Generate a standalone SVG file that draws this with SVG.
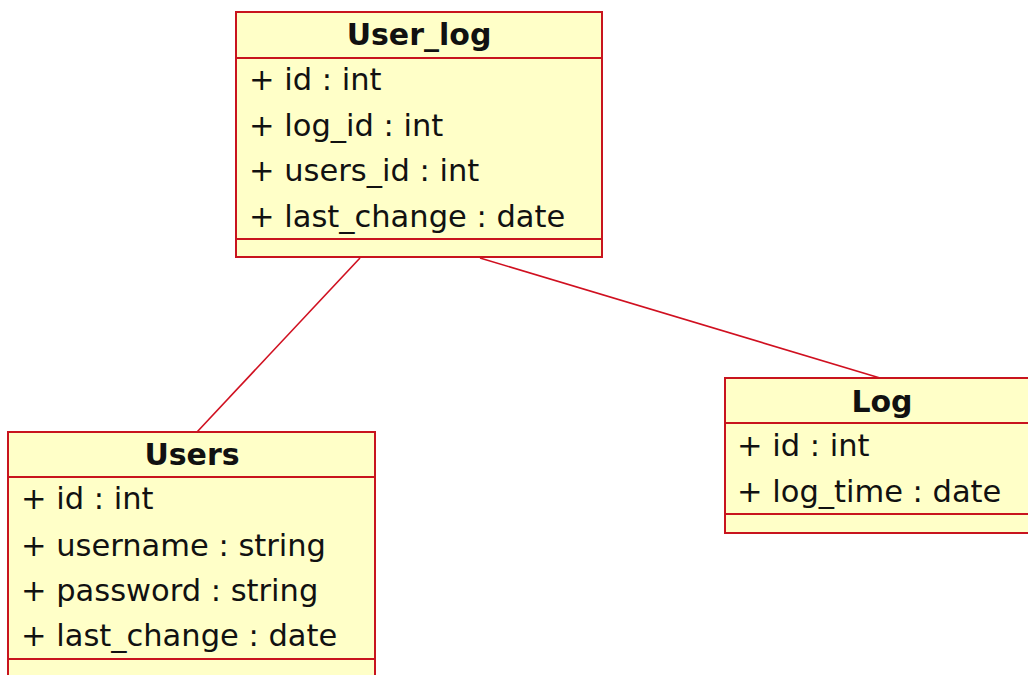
<svg xmlns="http://www.w3.org/2000/svg" width="1028" height="675" viewBox="0 0 1028 675">
  <style>
    .box { fill: #ffffc8; stroke: #c8141e; stroke-width: 2; }
    .sep { stroke: #c8141e; stroke-width: 2; }
    .title { font-family: "DejaVu Sans", sans-serif; font-weight: bold; font-size: 30px; fill: #111; text-anchor: middle; }
    .attr { font-family: "DejaVu Sans", sans-serif; font-size: 30.5px; fill: #111; }
    .link { stroke: #d01020; stroke-width: 1.6; fill: none; }
  </style>
  <rect width="1028" height="675" fill="#ffffff"/>

  <!-- associations -->
  <g id="connectors">
    <line class="link" x1="360" y1="258" x2="197" y2="432"/>
    <line class="link" x1="480" y1="258" x2="880" y2="378"/>
  </g>

  <!-- User_log class -->
  <g id="user_log">
    <rect class="box" x="236" y="12" width="366" height="245"/>
    <line class="sep" x1="236" y1="58" x2="602" y2="58"/>
    <line class="sep" x1="236" y1="239" x2="602" y2="239"/>
    <text class="title" x="419" y="45">User_log</text>
    <text class="attr" x="249" y="90">+ id : int</text>
    <text class="attr" x="249" y="136">+ log_id : int</text>
    <text class="attr" x="249" y="181">+ users_id : int</text>
    <text class="attr" x="249" y="227">+ last_change : date</text>
  </g>

  <!-- Users class -->
  <g id="users">
    <rect class="box" x="8" y="432" width="367" height="260"/>
    <line class="sep" x1="8" y1="477" x2="375" y2="477"/>
    <line class="sep" x1="8" y1="659" x2="375" y2="659"/>
    <text class="title" x="192" y="465">Users</text>
    <text class="attr" x="21" y="509">+ id : int</text>
    <text class="attr" x="21" y="556">+ username : string</text>
    <text class="attr" x="21" y="601">+ password : string</text>
    <text class="attr" x="21" y="646">+ last_change : date</text>
  </g>

  <!-- Log class -->
  <g id="log">
    <rect class="box" x="725" y="378" width="320" height="155"/>
    <line class="sep" x1="725" y1="423" x2="1045" y2="423"/>
    <line class="sep" x1="725" y1="514" x2="1045" y2="514"/>
    <text class="title" x="882" y="412">Log</text>
    <text class="attr" x="737" y="456">+ id : int</text>
    <text class="attr" x="737" y="502">+ log_time : date</text>
  </g>
</svg>
